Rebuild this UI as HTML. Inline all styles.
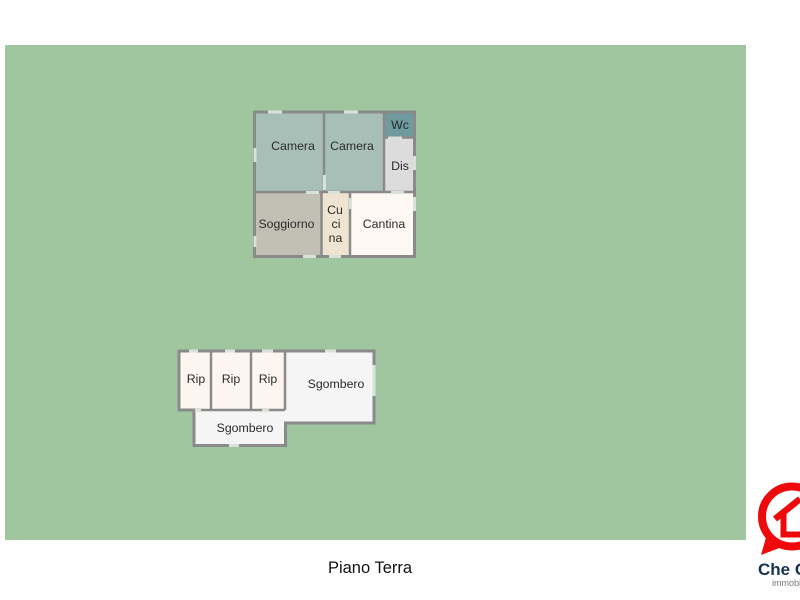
<!DOCTYPE html>
<html><head><meta charset="utf-8"><style>
html,body{margin:0;padding:0;background:#fff;width:800px;height:600px;overflow:hidden}
svg{display:block}
text{font-family:"Liberation Sans",sans-serif;fill:#2b2b2b;font-size:12.3px;text-anchor:middle}
</style></head><body>
<svg width="800" height="600" viewBox="0 0 800 600" xmlns="http://www.w3.org/2000/svg">
<rect width="800" height="600" fill="#fff"/>
<rect x="5" y="45" width="741" height="495" fill="#a0c6a0"/>

<!-- upper plan rooms -->
<rect x="255" y="112" width="69" height="80" fill="#a8bfb8"/>
<rect x="324" y="112" width="60" height="80" fill="#a8bfb8"/>
<rect x="385" y="112" width="30" height="26" fill="#6f9a9e"/>
<rect x="385" y="138" width="30" height="54" fill="#dcdcdc"/>
<rect x="255" y="192" width="67" height="64" fill="#c2bfb4"/>
<rect x="322" y="192" width="28" height="64" fill="#efe4cf"/>
<rect x="350" y="192" width="65" height="64" fill="#fdf8f2"/>
<g stroke="#8a8a8a" fill="none">
<rect x="254.500" y="112" width="160" height="144.500" stroke-width="3"/>
<path d="M324 112V192M384 112V192M254 192H415M321.500 192V256M350 192V256M384 137.500H415" stroke-width="2.500"/>
</g>
<g fill="#d8e2d8">
<rect x="268" y="110.500" width="14" height="3"/>
<rect x="344" y="110.500" width="14" height="3"/>
<rect x="253.500" y="148" width="3" height="14"/>
<rect x="323" y="175" width="3" height="15"/>
<rect x="306" y="191" width="13" height="3"/>
<rect x="328" y="191" width="12" height="3"/>
<rect x="388" y="136.500" width="14" height="3"/>
<rect x="413" y="156" width="3" height="14"/>
<rect x="391" y="191" width="13" height="3"/>
<rect x="349" y="198" width="3" height="11"/>
<rect x="413" y="197" width="3" height="14"/>
<rect x="253.500" y="236" width="3" height="11"/>
<rect x="303" y="255" width="13" height="3"/>
<rect x="329" y="255" width="12" height="3"/>
</g>
<text x="293" y="150">Camera</text>
<text x="352" y="150">Camera</text>
<text x="400" y="129">Wc</text>
<text x="400" y="170">Dis</text>
<text x="286.500" y="228">Soggiorno</text>
<text x="335" y="214">Cu</text>
<text x="336" y="228">ci</text>
<text x="335.500" y="242">na</text>
<text x="384" y="228">Cantina</text>

<!-- lower plan rooms -->
<path d="M179 351H374V423H285.500V445.500H194V410H179Z" fill="#f5f5f5"/>
<rect x="179" y="351" width="32" height="59" fill="#fdf6f0"/>
<rect x="211" y="351" width="40" height="59" fill="#fdf6f0"/>
<rect x="251" y="351" width="34" height="59" fill="#fdf6f0"/>
<g stroke="#8a8a8a" fill="none" stroke-width="3">
<path d="M179 351H374V423H285.500V445.500H194V410H179Z"/>
<path d="M179 410H285M211 351V410M251 351V410M285 351V410" stroke-width="2.500"/>
</g>
<g fill="#d8e2d8">
<rect x="189" y="349.500" width="9" height="3"/>
<rect x="225" y="349.500" width="10" height="3"/>
<rect x="262" y="349.500" width="11" height="3"/>
<rect x="325" y="349.500" width="11" height="3"/>
<rect x="372.500" y="365" width="3" height="31"/>
<rect x="195" y="409" width="6" height="3"/>
<rect x="262" y="409" width="7" height="3"/>
<rect x="229" y="444" width="10" height="3"/>
</g>
<text x="196" y="383">Rip</text>
<text x="231" y="383">Rip</text>
<text x="268" y="383">Rip</text>
<text x="336" y="388">Sgombero</text>
<text x="245" y="432">Sgombero</text>

<text x="370" y="573" style="font-size:16.500px;fill:#111">Piano Terra</text>

<!-- logo -->
<circle cx="792" cy="516.500" r="30" fill="#fff" stroke="#ee0a0a" stroke-width="8"/>
<path d="M767 534L761 555L782 547Z" fill="#ee0a0a"/>
<path d="M775 519L800 499" stroke="#ee0a0a" stroke-width="6.500" fill="none"/>
<path d="M783.500 514V534.500H802" stroke="#ee0a0a" stroke-width="6" fill="none"/>
<text x="758" y="575" style="font-size:17px;font-weight:bold;fill:#16324f;text-anchor:start">Che C</text>
<text x="772" y="586" style="font-size:9px;fill:#777;text-anchor:start">immobili</text>
</svg>
</body></html>
